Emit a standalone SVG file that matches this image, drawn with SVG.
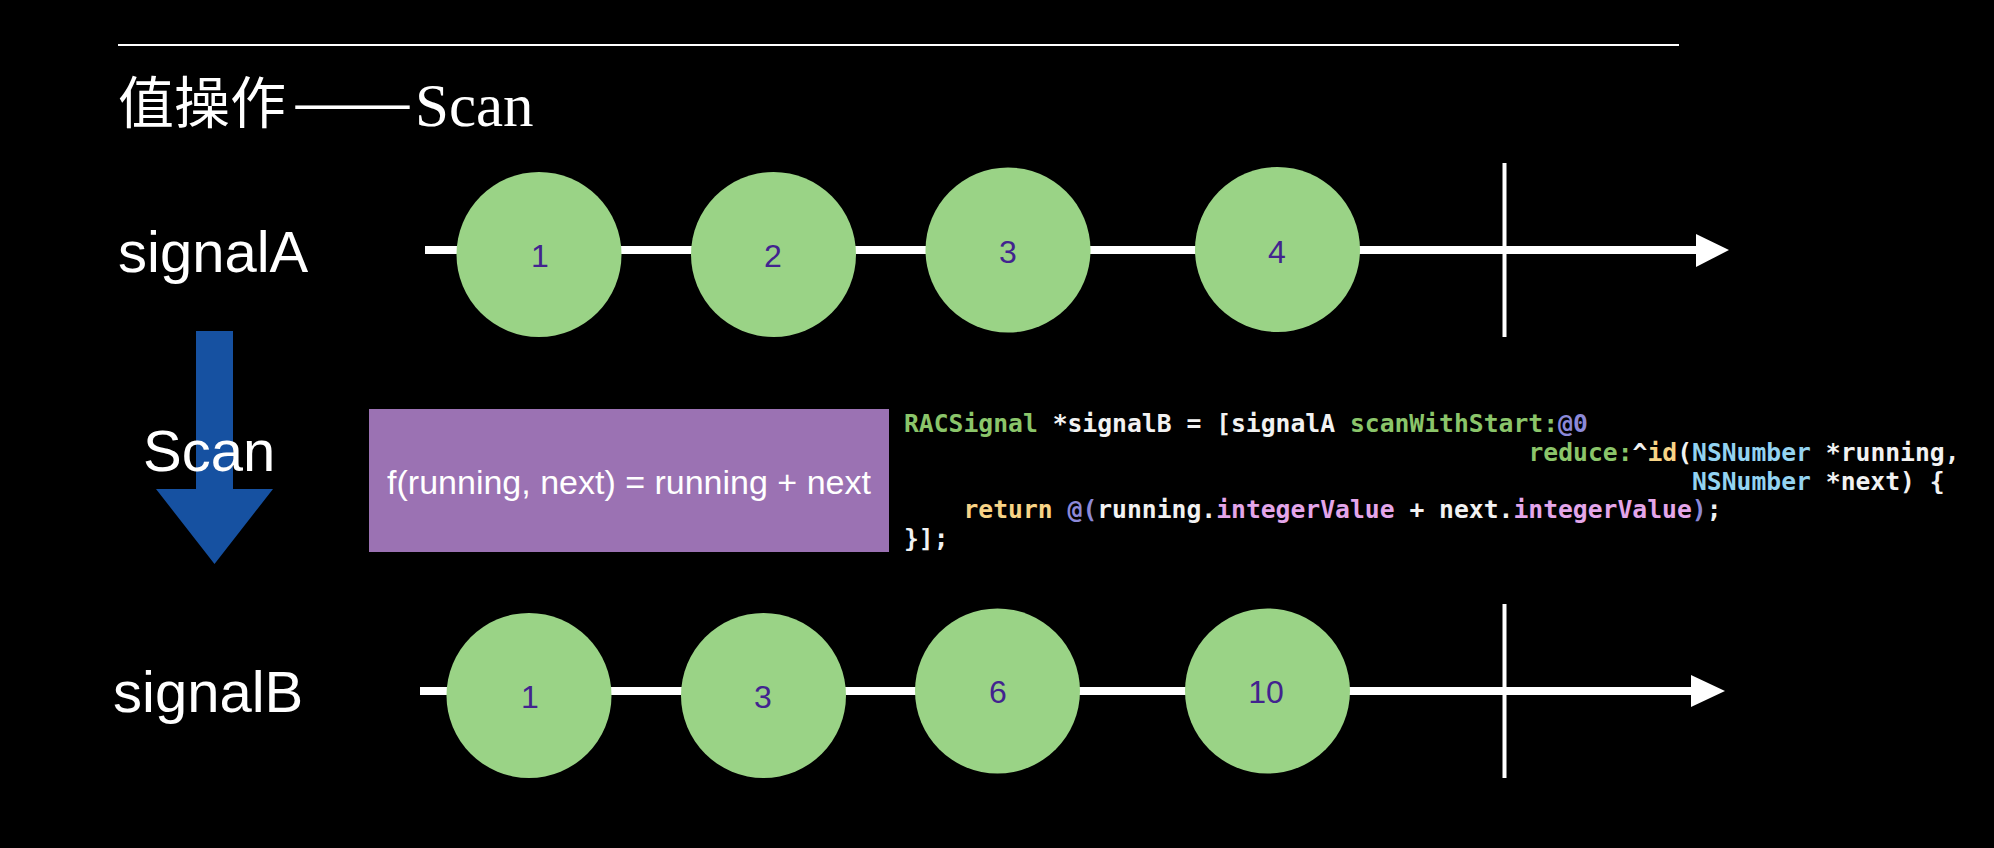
<svg xmlns="http://www.w3.org/2000/svg" width="1994" height="848" viewBox="0 0 1994 848">
<style>
.lbl{font-family:"Liberation Sans",Arial,sans-serif;fill:#ffffff;font-size:58px}
.dot{fill:#9ad386}
.num{font-family:"Liberation Sans",Arial,sans-serif;fill:#42238f;font-size:32px;text-anchor:middle}
.tl{stroke:#ffffff;stroke-width:8;fill:none}
.tick{stroke:#ffffff;stroke-width:4}
.code{font-family:"DejaVu Sans Mono","Liberation Mono",monospace;font-weight:bold;font-size:24.7px;fill:#f2f2f2}
.g{fill:#8bc56a}.w{fill:#f2f2f2}.p{fill:#8c89d8}.y{fill:#f8d486}.b{fill:#93d3f1}.k{fill:#e4a6ea}
</style>
<rect x="0" y="0" width="1994" height="848" fill="#000000"/>
<g id="header">
<line x1="118" y1="45" x2="1679" y2="45" stroke="#ffffff" stroke-width="2"/>
<text x="118" y="123" font-family="'Noto Sans CJK SC','Noto Sans CJK JP',sans-serif" font-size="56" fill="#ffffff">值操作</text>
<text x="292" y="123" font-family="'Noto Sans CJK SC','Noto Sans CJK JP',sans-serif" font-size="56" fill="#ffffff" textLength="121" lengthAdjust="spacingAndGlyphs">——</text>
<text x="415" y="126" font-family="'Liberation Serif','Times New Roman',serif" font-size="61" fill="#ffffff">Scan</text>
</g>
<g id="connectors">
<g id="timelineA">
<line class="tl" x1="425" y1="250" x2="1698" y2="250"/>
<polygon points="1696,234 1729,250 1696,267" fill="#ffffff"/>
<line class="tick" x1="1504.5" y1="163" x2="1504.5" y2="337"/>
</g>
<g id="timelineB">
<line class="tl" x1="420" y1="691" x2="1693" y2="691"/>
<polygon points="1691,675 1725,691 1691,707" fill="#ffffff"/>
<line class="tick" x1="1504.5" y1="604" x2="1504.5" y2="778"/>
</g>
<polygon id="scanArrow" points="196,331 233,331 233,489 273,489 214.5,564 156,489 196,489" fill="#1651a1"/>
</g>
<g id="labelA"><text class="lbl" x="118" y="272">signalA</text></g>
<g id="labelB"><text class="lbl" x="113" y="712">signalB</text></g>
<g id="labelScan"><text class="lbl" x="143" y="471">Scan</text></g>
<g id="a1"><circle class="dot" cx="539" cy="254.5" r="82.5"/><text class="num" x="540" y="267">1</text></g>
<g id="a2"><circle class="dot" cx="773.5" cy="254.5" r="82.5"/><text class="num" x="773" y="267">2</text></g>
<g id="a3"><circle class="dot" cx="1008" cy="250" r="82.5"/><text class="num" x="1008" y="263">3</text></g>
<g id="a4"><circle class="dot" cx="1277.5" cy="249.5" r="82.5"/><text class="num" x="1277" y="263">4</text></g>
<g id="b1"><circle class="dot" cx="529" cy="695.5" r="82.5"/><text class="num" x="530" y="708">1</text></g>
<g id="b2"><circle class="dot" cx="763.5" cy="695.5" r="82.5"/><text class="num" x="763" y="708">3</text></g>
<g id="b3"><circle class="dot" cx="997.5" cy="691" r="82.5"/><text class="num" x="998" y="703">6</text></g>
<g id="b4"><circle class="dot" cx="1267.5" cy="691" r="82.5"/><text class="num" x="1266" y="703">10</text></g>
<g id="fbox">
<rect x="369" y="409" width="520" height="143" fill="#9b72b3"/>
<text x="629" y="494" font-family="'Liberation Sans',Arial,sans-serif" font-size="34" fill="#ffffff" text-anchor="middle">f(running, next) = running + next</text>
</g>
<g id="code">
<text class="code" x="904" y="432" xml:space="preserve"><tspan class="g">RACSignal</tspan><tspan class="w"> *signalB = [signalA </tspan><tspan class="g">scanWithStart:</tspan><tspan class="p">@0</tspan></text>
<text class="code" x="1528.5" y="461" xml:space="preserve"><tspan class="g">reduce:</tspan><tspan class="w">^</tspan><tspan class="y">id</tspan><tspan class="w">(</tspan><tspan class="b">NSNumber</tspan><tspan class="w"> *running,</tspan></text>
<text class="code" x="1692" y="489.5" xml:space="preserve"><tspan class="b">NSNumber</tspan><tspan class="w"> *next) {</tspan></text>
<text class="code" x="904" y="518" xml:space="preserve"><tspan class="y">    return</tspan><tspan class="w"> </tspan><tspan class="p">@(</tspan><tspan class="w">running.</tspan><tspan class="k">integerValue</tspan><tspan class="w"> + next.</tspan><tspan class="k">integerValue</tspan><tspan class="p">)</tspan><tspan class="w">;</tspan></text>
<text class="code" x="904" y="547" xml:space="preserve">}];</text>
</g>
</svg>
